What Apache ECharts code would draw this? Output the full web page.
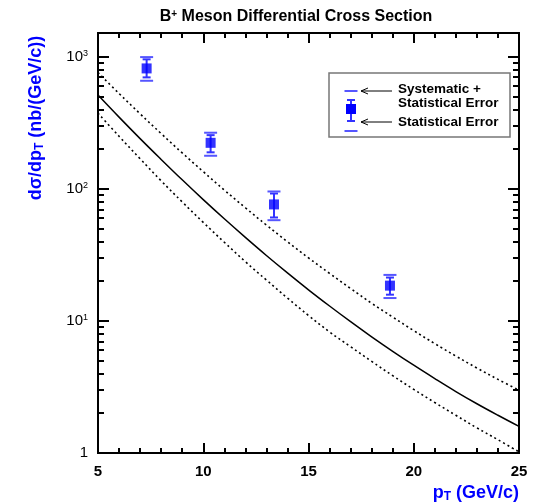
<!DOCTYPE html>
<html><head><meta charset="utf-8">
<script src="https://cdn.jsdelivr.net/npm/echarts@6/dist/echarts.min.js"></script>
<style>html,body{margin:0;padding:0;background:#fff}#c{width:542px;height:504px}</style>
</head><body><div id="c"></div>
<script>
// ---- data ----
const ptCenters = [7.31, 10.35, 13.36, 18.87];
const sigma     = [816, 223, 76.2, 18.5];
const statLow   = [698, 189, 60.7, 15.8];
const statHigh  = [956, 255, 92.2, 21.3];
const systLow   = [658, 178, 57.9, 14.9];
const systHigh  = [994, 266, 95.5, 22.3];

const curveX = [5,6,7,8,9,10,11,12,13,14,15,16,17,18,19,20,21,22,23,24,25];
const theoryCentral = [513,349,240,167,117,82.8,59.3,42.9,31.3,23.1,17.2,12.97,9.87,7.58,5.89,4.62,3.66,2.92,2.36,1.93,1.59];
const theoryUpper   = [759,527,370,262,187,135,97.9,71.9,53.2,39.8,30.0,22.9,17.6,13.6,10.7,8.44,6.73,5.42,4.40,3.61,2.99];
const theoryLower   = [374,250,169,115,79.6,55.7,39.4,28.1,20.4,14.9,11.0,8.25,6.38,4.94,3.85,3.03,2.41,1.93,1.55,1.26,1.02];

const xTickValues = [5,10,15,20,25];
const yMajorTicks = [1,10,100,1000];
const yMinorTicks = [2,3,4,5,6,7,8,9,20,30,40,50,60,70,80,90,200,300,400,500,600,700,800,900];
const yLabelText = {1:'1', 10:'10{s|1}', 100:'10{s|2}', 1000:'10{s|3}'};

// ---- chart ----
const FONT = 'Liberation Sans';
const chart = echarts.init(document.getElementById('c'), null, {renderer:'canvas'});
const axisLine = {show:true, onZero:false, lineStyle:{color:'#000', width:2}};
const yMin = 1, yMax = 1513;

function yAxisDef(pos, ticks, len, labels){
  return {
    type:'log', logBase:10, min:yMin, max:yMax, position:pos,
    axisLine: axisLine, splitLine:{show:false},
    axisTick:{show:true, inside:true, length:len, customValues:ticks, lineStyle:{color:'#000', width:2}},
    axisLabel: labels ? {
      show:true, customValues: yMajorTicks, margin:10,
      fontFamily:FONT, fontSize:15, color:'#000',
      formatter: v => yLabelText[Math.round(v)] || '',
      rich:{ s:{fontSize:9, fontFamily:FONT, color:'#000', verticalAlign:'top', padding:[0,0,6,0]} }
    } : {show:false}
  };
}
function xAxisDef(pos, labels){
  return {
    type:'value', min:5, max:25, interval:5, position:pos,
    axisLine: axisLine, splitLine:{show:false},
    axisTick:{show:true, inside:true, length:10, lineStyle:{color:'#000', width:2}},
    minorTick:{show:true, splitNumber:5, length:5, lineStyle:{color:'#000', width:2}},
    axisLabel: labels ? {show:true, margin:11, fontFamily:FONT, fontSize:15, fontWeight:'bold', color:'#000'} : {show:false}
  };
}

const errData = ptCenters.map((x,i)=>[x, statLow[i], statHigh[i], systLow[i], systHigh[i]]);
const ptData = ptCenters.map((x,i)=>[x, sigma[i]]);

const option = {
  animation:false,
  backgroundColor:'#fff',
  grid:{left:98, right:23, top:33, bottom:51, containLabel:false},
  xAxis:[ xAxisDef('bottom', true), xAxisDef('top', false) ],
  yAxis:[
    yAxisDef('left', yMajorTicks, 11, true),
    yAxisDef('left', yMinorTicks, 6, false),
    yAxisDef('right', yMajorTicks, 11, false),
    yAxisDef('right', yMinorTicks, 6, false)
  ],
  series:[
    {type:'line', name:'central', data: curveX.map((x,i)=>[x, theoryCentral[i]]), smooth:0.4, symbol:'none',
      lineStyle:{color:'#000', width:1.5}, clip:true},
    {type:'line', name:'upper', data: curveX.map((x,i)=>[x, theoryUpper[i]]), smooth:0.4, symbol:'none',
      lineStyle:{color:'#000', width:1.6, type:[2,3]}, clip:true},
    {type:'line', name:'lower', data: curveX.map((x,i)=>[x, theoryLower[i]]), smooth:0.4, symbol:'none',
      lineStyle:{color:'#000', width:1.6, type:[2,3]}, clip:true},
    {type:'custom', name:'errors', data: errData, encode:{x:0, y:[1,2,3,4]}, z:5,
      renderItem:(params, api)=>{
        const x = api.value(0);
        const s1 = api.coord([x, api.value(1)]), s2 = api.coord([x, api.value(2)]);
        const y1 = api.coord([x, api.value(3)]), y2 = api.coord([x, api.value(4)]);
        const cx = s1[0];
        const st = {stroke:'#3333ff', lineWidth:2};
        const sy = {stroke:'#5555ff', lineWidth:2};
        return {type:'group', children:[
          {type:'line', shape:{x1:cx, y1:s1[1], x2:cx, y2:s2[1]}, style:st},
          {type:'line', shape:{x1:cx-4, y1:s1[1], x2:cx+4, y2:s1[1]}, style:st},
          {type:'line', shape:{x1:cx-4, y1:s2[1], x2:cx+4, y2:s2[1]}, style:st},
          {type:'line', shape:{x1:cx-6.5, y1:y1[1], x2:cx+6.5, y2:y1[1]}, style:sy},
          {type:'line', shape:{x1:cx-6.5, y1:y2[1], x2:cx+6.5, y2:y2[1]}, style:sy}
        ]};
      }},
    {type:'scatter', name:'data', data: ptData, symbol:'rect', symbolSize:10, z:6,
      itemStyle:{color:'#0000ff'}}
  ],
  graphic:[
    {type:'text', x:296, y:17, style:{
      text:'B{p|+} Meson Differential Cross Section', font:'bold 16px '+FONT, fill:'#000',
      align:'center', verticalAlign:'middle',
      rich:{p:{fontSize:10, fontWeight:'bold', fontFamily:FONT, fill:'#000', verticalAlign:'top', padding:[0,0,6,0]}}}},
    {type:'text', x:36, y:118, rotation:Math.PI/2, style:{
      text:'dσ/dp{t|T} (nb/(GeV/c))', font:'bold 18px '+FONT, fill:'#0000ff',
      align:'center', verticalAlign:'middle',
      rich:{t:{fontSize:12, fontWeight:'bold', fontFamily:FONT, fill:'#0000ff', padding:[7,0,0,0]}}}},
    {type:'text', x:519, y:493, style:{
      text:'p{t|T} (GeV/c)', font:'bold 18px '+FONT, fill:'#0000ff',
      align:'right', verticalAlign:'middle',
      rich:{t:{fontSize:12, fontWeight:'bold', fontFamily:FONT, fill:'#0000ff', padding:[8,0,0,0]}}}},
    // legend box
    {type:'rect', shape:{x:329, y:73, width:181, height:64}, style:{fill:'#fff', stroke:'#777', lineWidth:1.5}, z:10},
    {type:'line', shape:{x1:344.5, y1:91, x2:357.5, y2:91}, style:{stroke:'#5555ff', lineWidth:2}, z:11},
    {type:'line', shape:{x1:344.5, y1:131, x2:357.5, y2:131}, style:{stroke:'#5555ff', lineWidth:2}, z:11},
    {type:'line', shape:{x1:351, y1:100, x2:351, y2:121}, style:{stroke:'#3333ff', lineWidth:2}, z:11},
    {type:'line', shape:{x1:347, y1:100, x2:355, y2:100}, style:{stroke:'#3333ff', lineWidth:2}, z:11},
    {type:'line', shape:{x1:347, y1:121, x2:355, y2:121}, style:{stroke:'#3333ff', lineWidth:2}, z:11},
    {type:'rect', shape:{x:346, y:104, width:10, height:10}, style:{fill:'#0000ff'}, z:12},
    {type:'polyline', shape:{points:[[368,88],[361,91],[368,94]]}, style:{stroke:'#000', lineWidth:1, fill:null}, z:11},
    {type:'line', shape:{x1:361, y1:91, x2:392, y2:91}, style:{stroke:'#000', lineWidth:1}, z:11},
    {type:'polyline', shape:{points:[[368,119],[361,122],[368,125]]}, style:{stroke:'#000', lineWidth:1, fill:null}, z:11},
    {type:'line', shape:{x1:361, y1:122, x2:392, y2:122}, style:{stroke:'#000', lineWidth:1}, z:11},
    {type:'text', x:398, y:89, z:11, style:{text:'Systematic +', font:'bold 13.5px '+FONT, fill:'#000', verticalAlign:'middle'}},
    {type:'text', x:398, y:103, z:11, style:{text:'Statistical Error', font:'bold 13.5px '+FONT, fill:'#000', verticalAlign:'middle'}},
    {type:'text', x:398, y:122, z:11, style:{text:'Statistical Error', font:'bold 13.5px '+FONT, fill:'#000', verticalAlign:'middle'}}
  ]
};
chart.setOption(option);
</script>
</body></html>
